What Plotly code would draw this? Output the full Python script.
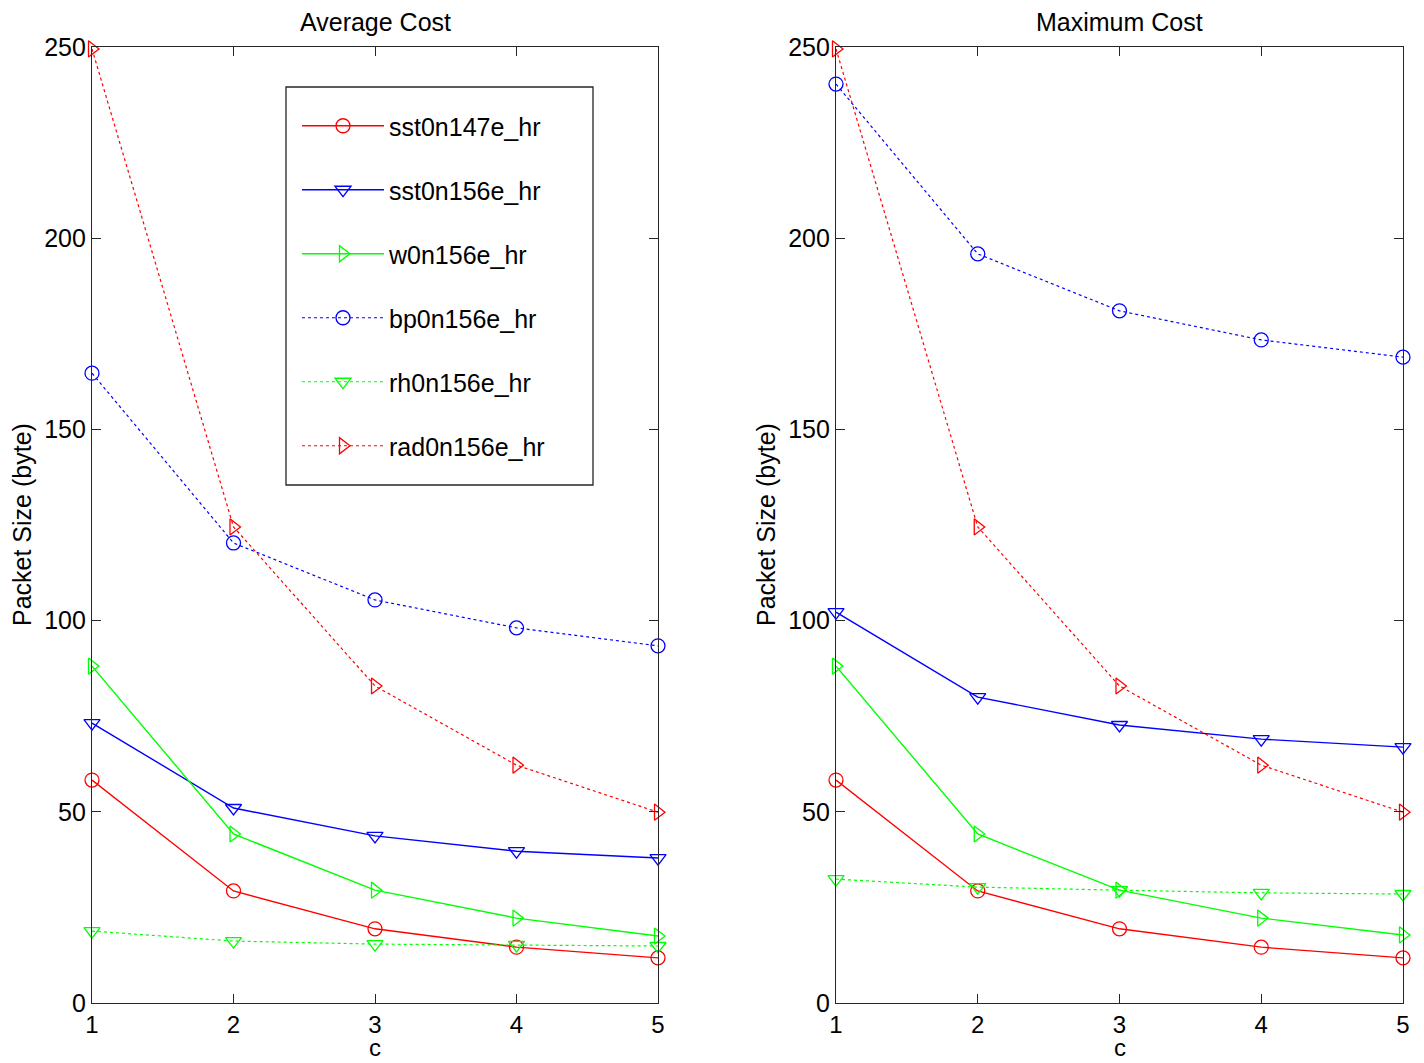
import plotly.graph_objects as go
from plotly.subplots import make_subplots

c = [1, 2, 3, 4, 5]
names = ["sst0n147e_hr", "sst0n156e_hr", "w0n156e_hr", "bp0n156e_hr", "rh0n156e_hr", "rad0n156e_hr"]

avg_sst0n147e = [58.3, 29.3, 19.4, 14.6, 11.8]
avg_sst0n156e = [73.2, 51.0, 43.7, 39.7, 37.9]
avg_w0n156e = [88.1, 44.2, 29.5, 22.2, 17.5]
avg_bp0n156e = [164.7, 120.3, 105.4, 98.1, 93.4]
avg_rh0n156e = [18.8, 16.2, 15.4, 15.2, 14.9]
avg_rad0n156e = [249.5, 124.5, 82.9, 62.2, 49.9]

max_sst0n147e = [58.3, 29.3, 19.4, 14.6, 11.8]
max_sst0n156e = [102.2, 80.0, 72.7, 69.0, 66.9]
max_w0n156e = [88.1, 44.2, 29.5, 22.2, 17.8]
max_bp0n156e = [240.3, 195.9, 181.0, 173.4, 168.9]
max_rh0n156e = [32.4, 30.3, 29.5, 28.8, 28.5]
max_rad0n156e = [249.5, 124.5, 82.9, 62.2, 49.9]

avg_series = [avg_sst0n147e, avg_sst0n156e, avg_w0n156e, avg_bp0n156e, avg_rh0n156e, avg_rad0n156e]
max_series = [max_sst0n147e, max_sst0n156e, max_w0n156e, max_bp0n156e, max_rh0n156e, max_rad0n156e]

colors = ["#ff0000", "#0000ff", "#00ff00", "#0000ff", "#00ff00", "#ff0000"]
symbols = ["circle-open", "triangle-down-open", "triangle-right-open",
           "circle-open", "triangle-down-open", "triangle-right-open"]
dashes = ["solid", "solid", "solid", "dot", "dot", "dot"]
widths = [1.4, 1.4, 1.4, 1.2, 1.2, 1.2]

fig = make_subplots(rows=1, cols=2)

for col, series in ((1, avg_series), (2, max_series)):
    for i, ys in enumerate(series):
        fig.add_trace(go.Scatter(
            x=c, y=ys, name=names[i], mode="lines+markers",
            line=dict(color=colors[i], width=widths[i], dash=dashes[i]),
            marker=dict(symbol=symbols[i], size=14, color=colors[i],
                        line=dict(color=colors[i], width=1.3)),
            cliponaxis=False, showlegend=(col == 1), legendgroup=names[i],
        ), row=1, col=col)

font = dict(family="Liberation Sans, Arial, sans-serif", size=25, color="#000000")
font24 = dict(family="Liberation Sans, Arial, sans-serif", size=24, color="#000000")
axis_common = dict(showline=True, linecolor="#262626", linewidth=1.3, mirror="ticks",
                   ticks="inside", ticklen=9, tickcolor="#262626", tickwidth=1.2,
                   showgrid=False, zeroline=False, automargin=False)

# page body has an 8px margin; figure is sized/offset to fit the 1424x1063 window
OFF = 8
W, H = 1424 - 2 * OFF, 1063 - OFF


def px(x):
    return (x - OFF) / W


def py(y):
    return 1 - (y - OFF) / H


ydom = [py(1003), py(47)]
fig.update_layout(
    width=W, height=H,
    margin=dict(l=0, r=0, t=0, b=0, autoexpand=False),
    plot_bgcolor="white", paper_bgcolor="white",
    font=font,
    xaxis=dict(domain=[px(92), px(658)], range=[1, 5], tickvals=c, tickfont=font24, **axis_common),
    xaxis2=dict(domain=[px(836), px(1403)], range=[1, 5], tickvals=c, tickfont=font24, **axis_common),
    yaxis=dict(domain=ydom, range=[0, 250], tickvals=[0, 50, 100, 150, 200, 250], tickfont=font, **axis_common),
    yaxis2=dict(domain=ydom, range=[0, 250], tickvals=[0, 50, 100, 150, 200, 250], tickfont=font, **axis_common),
    legend=dict(x=px(297), y=py(103), xanchor="left", yanchor="top",
                borderwidth=0, bgcolor="rgba(0,0,0,0)",
                font=font, tracegroupgap=28.5, itemwidth=82),
    shapes=[dict(type="rect", xref="paper", yref="paper",
                 x0=px(286), x1=px(593), y0=py(485), y1=py(87),
                 line=dict(color="#262626", width=1.3), fillcolor="white", layer="below")],
    annotations=[
        dict(text="Average Cost", x=px((92 + 658) / 2), y=py(22.5), xref="paper", yref="paper",
             showarrow=False, font=font, xanchor="center", yanchor="middle"),
        dict(text="Maximum Cost", x=px((836 + 1403) / 2), y=py(22.5), xref="paper", yref="paper",
             showarrow=False, font=font, xanchor="center", yanchor="middle"),
        dict(text="c", x=px(375), y=0, xref="paper", yref="paper",
             showarrow=False, font=font24, xanchor="center", yanchor="bottom"),
        dict(text="c", x=px(1120), y=0, xref="paper", yref="paper",
             showarrow=False, font=font24, xanchor="center", yanchor="bottom"),
        dict(text="Packet Size (byte)", x=px(22), y=py(525), xref="paper", yref="paper",
             showarrow=False, font=font, textangle=-90, xanchor="center", yanchor="middle"),
        dict(text="Packet Size (byte)", x=px(766), y=py(525), xref="paper", yref="paper",
             showarrow=False, font=font, textangle=-90, xanchor="center", yanchor="middle"),
    ],
)

fig.write_html("out.html")
